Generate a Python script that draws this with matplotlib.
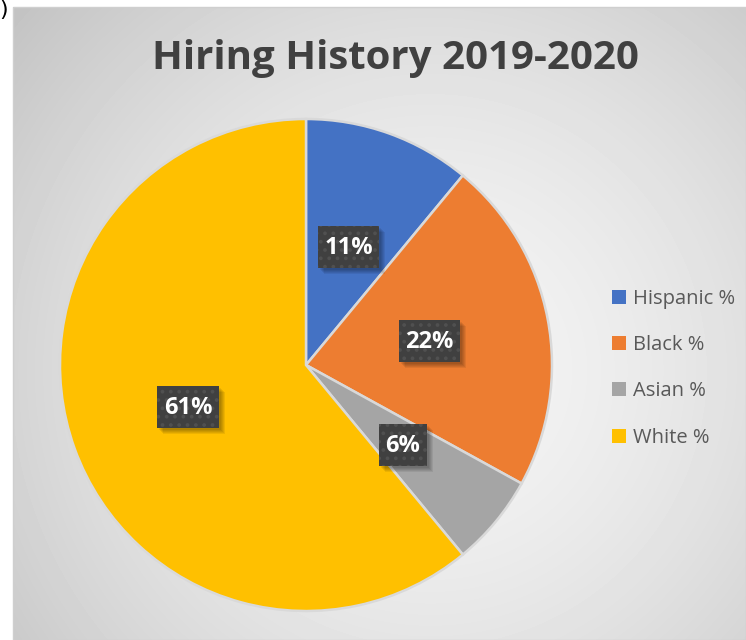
import matplotlib.pyplot as plt
import numpy as np
from matplotlib.patches import Rectangle

categories = ["Hispanic %", "Black %", "Asian %", "White %"]
shares = [11, 22, 6, 61]
colors = ["#4472c4", "#ed7d31", "#a5a5a5", "#ffc000"]

W, H = 746, 640
fig = plt.figure(figsize=(W / 100, H / 100), dpi=100)
fig.patch.set_facecolor("white")
plt.rcParams["hatch.linewidth"] = 1.5

# background panel with a soft radial gradient, in pixel coordinates
bg = fig.add_axes([0, 0, 1, 1])
bg.set_xlim(0, W)
bg.set_ylim(H, 0)
bg.axis("off")
x0, y0 = 13, 7
xx, yy = np.meshgrid(np.arange(x0, W), np.arange(y0, H))
r = np.hypot(xx - 430, yy - 370) / 520
shade = 0.96 - 0.18 * np.clip(r, 0, 1.2) ** 1.6
bg.imshow(shade, cmap="gray", vmin=0, vmax=1, extent=[x0, W, H, y0],
          interpolation="bilinear", aspect="auto")
bg.add_patch(Rectangle((x0, y0), W - x0, H - y0, fill=False,
                       edgecolor="#cfcfcf", linewidth=1))
bg.text(-1, 10, ")", fontsize=16, color="black", ha="left", va="center")

bg.text(395, 58, "Hiring History 2019-2020", fontsize=29, fontweight="bold",
        family="Open Sans", color="#404040", ha="center", va="center")

# pie: centre (306, 365) px, radius 246 px
cx, cy, rad = 306, 365, 246
ax = fig.add_axes([(cx - rad) / W, (H - cy - rad) / H, 2 * rad / W, 2 * rad / H])
wedges, _, autotexts = ax.pie(
    shares, colors=colors, startangle=90, counterclock=False,
    autopct=lambda p: f"{p:.0f}%", pctdistance=0.51,
    wedgeprops=dict(edgecolor="#d9d9d9", linewidth=1.8),
)
ax.set_xlim(-1, 1)
ax.set_ylim(-1, 1)

# overlay in pixel coordinates for the dark label boxes
top = fig.add_axes([0, 0, 1, 1], zorder=5)
top.set_xlim(0, W)
top.set_ylim(H, 0)
top.axis("off")
top.patch.set_alpha(0)

labels = []
for t in autotexts:
    px, py = ax.transData.transform(t.get_position())
    t.set_visible(False)
    lab = top.text(px, H - py + 1, t.get_text(), fontsize=17, fontweight="bold",
                   family="Open Sans", color="white", ha="center", va="center",
                   zorder=3)
    labels.append(lab)

fig.canvas.draw()
renderer = fig.canvas.get_renderer()
for lab in labels:
    ext = lab.get_window_extent(renderer)
    px, py = lab.get_position()
    bw, bh = ext.width + 13, 42
    bx, by = px - bw / 2, py - 1 - bh / 2
    # soft drop shadow from stacked offsets
    for k in (2, 3, 4, 5, 6):
        top.add_patch(Rectangle((bx + k, by + k), bw, bh, facecolor="black",
                                edgecolor="none", alpha=0.07, zorder=1))
    top.add_patch(Rectangle((bx, by), bw, bh, facecolor="#404040",
                            edgecolor="#505050", linewidth=0, hatch="..",
                            zorder=2))

leg = fig.legend(wedges, categories, loc="upper left",
                 bbox_to_anchor=(594 / W, 1 - 271 / H), frameon=False,
                 prop=dict(family="Open Sans", size=14.5), labelcolor="#595959",
                 handlelength=0.7, handleheight=0.7, handletextpad=0.35,
                 labelspacing=1.3)
for h in leg.legend_handles:
    h.set_edgecolor("none")

fig.savefig("out.png", dpi=100)
